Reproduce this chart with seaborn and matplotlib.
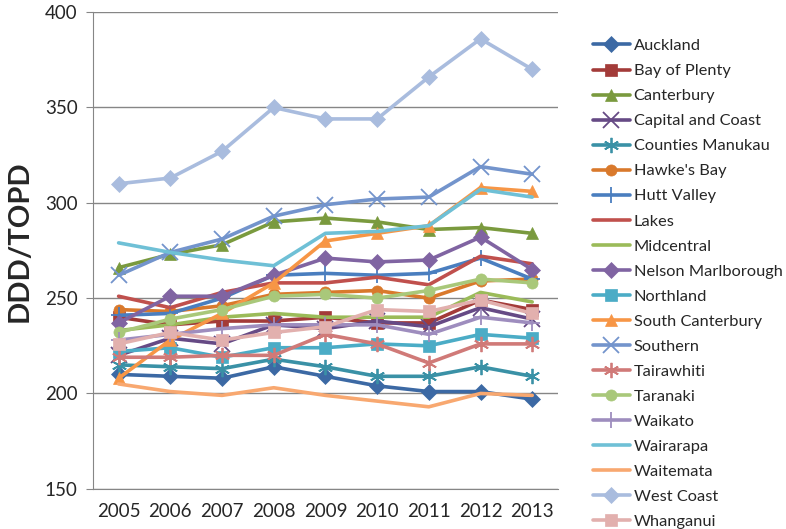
import pandas as pd
import matplotlib
matplotlib.use('Agg')
import matplotlib.pyplot as plt
import seaborn as sns

years = [2005, 2006, 2007, 2008, 2009, 2010, 2011, 2012, 2013]

dhbs = ['Auckland', 'Bay of Plenty', 'Canterbury', 'Capital and Coast', 'Counties Manukau',
        "Hawke's Bay", 'Hutt Valley', 'Lakes', 'Midcentral', 'Nelson Marlborough',
        'Northland', 'South Canterbury', 'Southern', 'Tairawhiti', 'Taranaki',
        'Waikato', 'Wairarapa', 'Waitemata', 'West Coast', 'Whanganui']

auckland = [210, 209, 208, 214, 209, 204, 201, 201, 197]
bay_of_plenty = [240, 236, 238, 238, 240, 237, 237, 249, 244]
canterbury = [266, 273, 278, 290, 292, 290, 286, 287, 284]
capital_coast = [220, 229, 226, 236, 234, 238, 235, 245, 239]
counties = [215, 214, 213, 218, 214, 209, 209, 214, 209]
hawkes_bay = [244, 243, 246, 252, 253, 254, 250, 259, 260]
hutt_valley = [241, 242, 250, 262, 263, 262, 263, 271, 260]
lakes = [251, 245, 253, 258, 258, 261, 257, 272, 268]
midcentral = [233, 236, 240, 242, 240, 240, 240, 253, 248]
nelson = [237, 251, 251, 262, 271, 269, 270, 282, 265]
northland = [222, 224, 219, 224, 224, 226, 225, 231, 229]
south_cant = [208, 228, 242, 258, 280, 284, 288, 308, 306]
southern = [262, 274, 281, 293, 299, 302, 303, 319, 315]
tairawhiti = [219, 219, 220, 220, 231, 226, 216, 226, 226]
taranaki = [232, 239, 244, 251, 252, 250, 254, 260, 258]
waikato = [228, 231, 234, 236, 236, 236, 231, 240, 237]
wairarapa = [279, 274, 270, 267, 284, 285, 288, 307, 303]
waitemata = [205, 201, 199, 203, 199, 196, 193, 200, 199]
west_coast = [310, 313, 327, 350, 344, 344, 366, 386, 370]
whanganui = [226, 232, 228, 232, 235, 244, 243, 249, 242]

values = [auckland, bay_of_plenty, canterbury, capital_coast, counties, hawkes_bay,
          hutt_valley, lakes, midcentral, nelson, northland, south_cant, southern,
          tairawhiti, taranaki, waikato, wairarapa, waitemata, west_coast, whanganui]

colors = ['#3C69A4', '#A33B39', '#7A9A3E', '#664A85', '#3A91A6', '#D9792C',
          '#4A7EBF', '#C0504D', '#9BBB59', '#8064A2', '#4BACC6', '#F79646',
          '#7394CC', '#D07A78', '#A9C87A', '#9E8DBE', '#6FC0D6', '#F8A870',
          '#A9BCDE', '#E2B0AE']
asterisk = (6, 2, 0)
markers = ['D', 's', '^', 'x', asterisk, 'o', '+', None, None, 'D',
           's', '^', 'x', asterisk, 'o', '+', None, None, 'D', 's']

rows = []
for name, vals in zip(dhbs, values):
    for y, v in zip(years, vals):
        rows.append({'Year': y, 'DHB': name, 'Value': v})
df = pd.DataFrame(rows)

sns.set_style('white')
plt.rcParams['font.family'] = ['Lato', 'DejaVu Sans']

fig = plt.figure(figsize=(7.86, 5.29), dpi=100)
ax = fig.add_axes([0.118, 0.076, 0.592, 0.901])

for name, col, mk in zip(dhbs, colors, markers):
    sub = df[df['DHB'] == name]
    if mk is None:
        kw = {}
    elif mk in ('x', '+', asterisk):
        kw = dict(marker=mk, markersize=11, markeredgewidth=1.3, markeredgecolor=col)
    else:
        kw = dict(marker=mk, markersize=8, markeredgewidth=0.5, markeredgecolor=col,
                  markerfacecolor=col)
    sns.lineplot(data=sub, x='Year', y='Value', ax=ax, color=col, linewidth=2.6,
                 label=name, **kw)

ax.set_ylim(150, 400)
ax.set_xlim(2004.5, 2013.5)
ax.set_yticks([150, 200, 250, 300, 350, 400])
ax.set_xticks(years)
ax.yaxis.grid(True, color='#868686', linewidth=1)
ax.set_axisbelow(True)
for s in ['top', 'right']:
    ax.spines[s].set_visible(False)
for s in ['left', 'bottom']:
    ax.spines[s].set_color('#868686')
ax.tick_params(axis='y', length=5, color='#868686', labelsize=13.5, pad=6, left=True)
ax.tick_params(axis='x', length=0, labelsize=13.5, pad=10)
ax.set_xlabel('')
ax.set_ylabel('DDD/TOPD', fontsize=21, fontweight='bold', labelpad=10)
ax.yaxis.set_label_coords(-0.13, 0.52)

ax.legend(loc='upper left', bbox_to_anchor=(1.06, 0.958), frameon=False, fontsize=11.8,
          handlelength=2.3, labelspacing=0.645, handletextpad=0.2, borderaxespad=0)

fig.savefig('out.png', dpi=100)
